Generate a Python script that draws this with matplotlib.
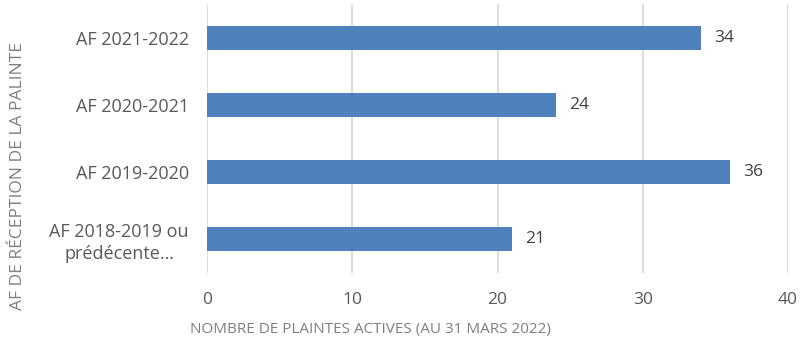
#!/usr/bin/env python3

"""Active complaints by fiscal year of receipt."""

import matplotlib
matplotlib.use("Agg")
import matplotlib.pyplot as plt

categories = [
    "AF 2018-2019 ou\nprédécente…",
    "AF 2019-2020",
    "AF 2020-2021",
    "AF 2021-2022",
]
values = [21, 36, 24, 34]
x_ticks = [0, 10, 20, 30, 40]

BAR_COLOR = "#4f81bd"
GRID_COLOR = "#d9d9d9"
TEXT_COLOR = "#595959"

plt.rcParams["font.family"] = ["Open Sans", "DejaVu Sans"]

fig = plt.figure(figsize=(8.12, 3.54), dpi=100)
ax = fig.add_axes([207 / 812, 1 - 273 / 354, (788 - 207) / 812, (273 - 4) / 354])

pos = range(len(categories))
ax.barh(pos, values, height=0.36, color=BAR_COLOR, zorder=3)
for y, v in zip(pos, values):
    ax.text(v + 0.9, y, str(v), va="center", ha="left", fontsize=12.5, color="#404040")

ax.set_xlim(0, 40)
ax.set_ylim(-0.5, len(categories) - 0.5)
ax.set_xticks(x_ticks)
ax.set_xticklabels([str(t) for t in x_ticks])
ax.set_yticks(list(pos))
ax.set_yticklabels(categories, linespacing=1.25, multialignment="center")
ax.tick_params(axis="x", length=0, pad=14, labelsize=12.5, labelcolor=TEXT_COLOR)
ax.tick_params(axis="y", length=0, pad=13, labelsize=13, labelcolor=TEXT_COLOR)
ax.grid(axis="x", color=GRID_COLOR, linewidth=1.3, zorder=0)
for side in ("top", "right", "bottom", "left"):
    ax.spines[side].set_visible(False)

fig.text(190 / 812, 1 - 329 / 354, "NOMBRE DE PLAINTES ACTIVES (AU 31 MARS 2022)",
         ha="left", va="center", fontsize=11, color="#7f7f7f")
fig.text(18 / 812, 1 - 176 / 354, "AF DE RÉCEPTION DE LA PALINTE",
         ha="center", va="center", rotation=90, fontsize=12.5, color="#7f7f7f")

fig.savefig("out.png", dpi=100)
